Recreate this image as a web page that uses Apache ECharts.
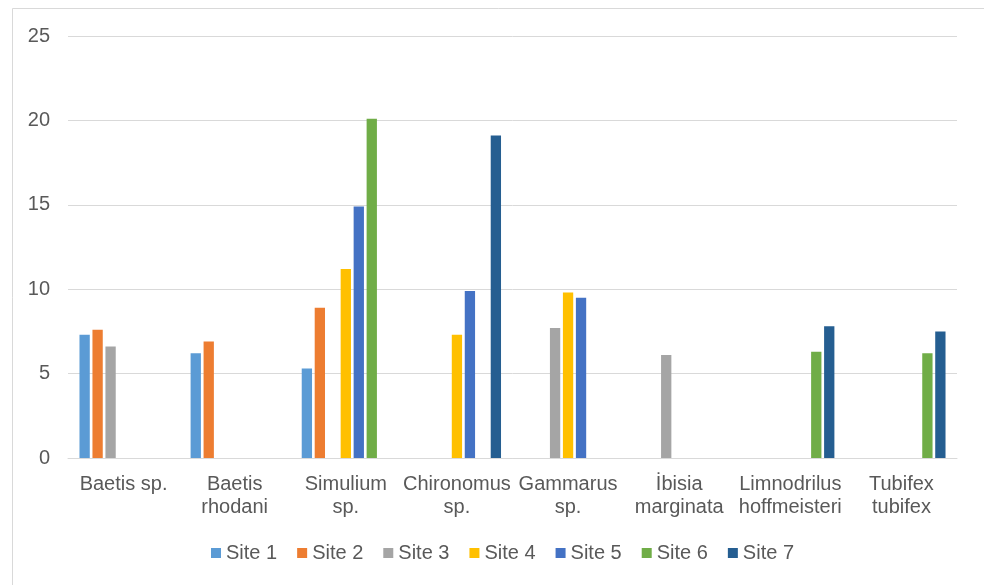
<!DOCTYPE html>
<html>
<head>
<meta charset="utf-8">
<script src="https://cdn.jsdelivr.net/npm/echarts@6/dist/echarts.min.js"></script>
<style>html,body{margin:0;padding:0;background:#fff}#c{width:984px;height:585px}</style>
</head>
<body>
<div id="c"></div>
<script>
const categories = ["Baetis sp.", "Baetis\nrhodani", "Simulium\nsp.", "Chironomus\nsp.", "Gammarus\nsp.", "İbisia\nmarginata", "Limnodrilus\nhoffmeisteri", "Tubifex\ntubifex"];
const seriesNames = ["Site 1", "Site 2", "Site 3", "Site 4", "Site 5", "Site 6", "Site 7"];
const site1 = [7.3, 6.2, 5.3, null, null, null, null, null];
const site2 = [7.6, 6.9, 8.9, null, null, null, null, null];
const site3 = [6.6, null, null, null, 7.7, 6.1, null, null];
const site4 = [null, null, 11.2, 7.3, 9.8, null, null, null];
const site5 = [null, null, 14.9, 9.9, 9.5, null, null, null];
const site6 = [null, null, 20.1, null, null, null, 6.3, 6.2];
const site7 = [null, null, null, 19.1, null, null, 7.8, 7.5];
const yTicks = [0, 5, 10, 15, 20, 25];
const colors = ["#5B9BD5", "#ED7D31", "#A5A5A5", "#FFC000", "#4472C4", "#70AD47", "#255E91"];

const allData = [site1, site2, site3, site4, site5, site6, site7];
const font = "'Liberation Sans', Arial, sans-serif";
const chart = echarts.init(document.getElementById('c'));
chart.setOption({
  animation: false,
  backgroundColor: '#fff',
  graphic: [{
    type: 'rect', left: 10, top: 6, shape: {x: 0, y: 0, width: 990, height: 600},
    style: {fill: 'none', stroke: '#d9d9d9', lineWidth: 1}, silent: true, z: -1
  }],
  grid: {left: 68, right: 27, top: 36, bottom: 127, containLabel: false},
  legend: {
    data: seriesNames,
    left: 206, top: 538,
    itemWidth: 10, itemHeight: 10, itemGap: 20,
    icon: 'rect',
    textStyle: {fontFamily: font, fontSize: 20, color: '#595959'}
  },
  xAxis: {
    type: 'category',
    data: categories,
    axisTick: {show: false},
    axisLine: {lineStyle: {color: '#d9d9d9', width: 1}},
    axisLabel: {interval: 0, fontFamily: font, fontSize: 20, color: '#595959', lineHeight: 23, margin: 15}
  },
  yAxis: {
    type: 'value',
    min: yTicks[0], max: yTicks[yTicks.length - 1], interval: 5,
    axisLine: {show: false},
    axisTick: {show: false},
    splitLine: {lineStyle: {color: '#d9d9d9', width: 1}},
    axisLabel: {fontFamily: font, fontSize: 20, color: '#595959', margin: 18}
  },
  series: seriesNames.map((n, i) => ({
    name: n, type: 'bar', data: allData[i],
    barWidth: 10.3, barGap: '26%',
    itemStyle: {color: colors[i]}
  }))
});
</script>
</body>
</html>
